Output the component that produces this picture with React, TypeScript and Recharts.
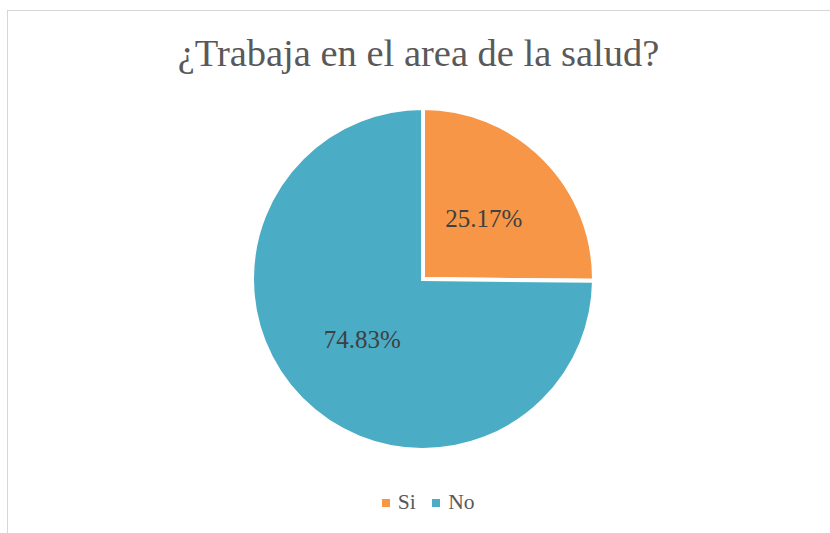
import { PieChart, Pie, Cell, Legend } from "recharts";

const categories = ["Si", "No"];
const values = [25.17, 74.83];
const colors = ["#F79646", "#4BACC6"];
const title = "¿Trabaja en el area de la salud?";

const data = categories.map((name, i) => ({ name, value: values[i] }));

const SERIF = '"Liberation Serif", "Times New Roman", serif';
const RAD = Math.PI / 180;

type LabelProps = {
  cx: number;
  cy: number;
  midAngle: number;
  outerRadius: number;
  percent: number;
};

function SliceLabel({ cx, cy, midAngle, outerRadius, percent }: LabelProps) {
  const r = outerRadius * 0.5;
  const x = cx + r * Math.cos(-midAngle * RAD);
  const y = cy + r * Math.sin(-midAngle * RAD);
  return (
    <text
      x={x}
      y={y}
      textAnchor="middle"
      dominantBaseline="central"
      fill="#404040"
      fontFamily={SERIF}
      fontSize={25}
    >
      {(percent * 100).toFixed(2)}%
    </text>
  );
}

function LegendContent() {
  return (
    <div style={{ display: "flex", alignItems: "center", fontFamily: SERIF, fontSize: 21.6, color: "#595959" }}>
      {categories.map((c, i) => (
        <div key={c} style={{ display: "flex", alignItems: "center", marginRight: i === 0 ? 16.5 : 0 }}>
          <span style={{ width: 8, height: 8, background: colors[i], display: "inline-block", marginRight: 8 }} />
          <span>{c}</span>
        </div>
      ))}
    </div>
  );
}

export default function App() {
  return (
    <div style={{ position: "fixed", left: 0, top: 0, width: 830, height: 533, overflow: "hidden", background: "#fff" }}>
      <div
        style={{
          position: "absolute",
          left: 7,
          top: 10,
          width: 900,
          height: 600,
          border: "1px solid #d6d6d6",
          boxSizing: "border-box",
        }}
      />
      <svg width={830} height={533} style={{ position: "absolute", left: 0, top: 0, pointerEvents: "none" }}>
        <text x={418.5} y={66} textAnchor="middle" fill="#595959" fontFamily={SERIF} fontSize={38.5}>
          {title}
        </text>
      </svg>
      <div style={{ position: "absolute", left: 0, top: 0 }}>
        <PieChart width={830} height={533} margin={{ top: 0, right: 0, bottom: 0, left: 0 }}>
          <Pie
            data={data}
            dataKey="value"
            nameKey="name"
            cx={423}
            cy={279}
            outerRadius={171}
            startAngle={90}
            endAngle={-270}
            stroke="#ffffff"
            strokeWidth={4}
            label={SliceLabel as never}
            labelLine={false}
            isAnimationActive={false}
          >
            {data.map((d, i) => (
              <Cell key={d.name} fill={colors[i]} />
            ))}
          </Pie>
          <Legend
            content={<LegendContent />}
            wrapperStyle={{ position: "absolute", left: 381.7, top: 490, width: "auto", height: 24 }}
          />
        </PieChart>
      </div>
    </div>
  );
}
